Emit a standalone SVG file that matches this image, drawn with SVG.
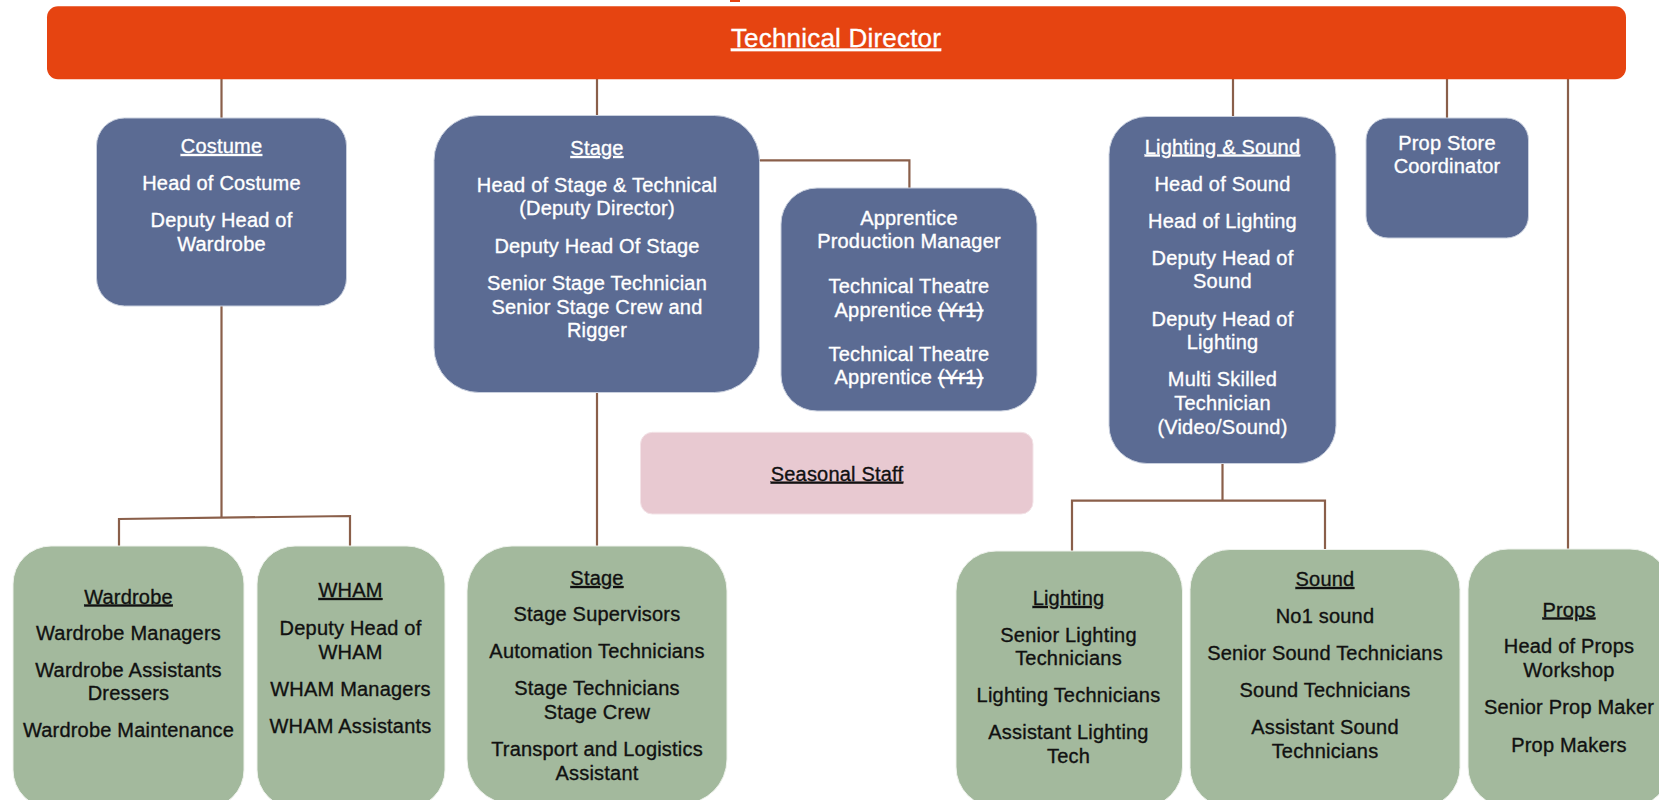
<svg xmlns="http://www.w3.org/2000/svg" width="1659" height="800" viewBox="0 0 1659 800">
  <style>
    .t { font-family: "Liberation Sans", Arial, Helvetica, sans-serif; font-size: 20px; letter-spacing: 0.2px; text-anchor: middle; stroke-width: 0.35px; }
    .w { fill: #ffffff; stroke: #ffffff; }
    .k { fill: #111111; stroke: #111111; }
    .u { text-decoration: underline; }
    .s { text-decoration: line-through; }
    .blue { fill: #5B6B93; stroke: #C9D0DE; stroke-width: 1; }
    .green { fill: #A3B99D; stroke: #EEF2EC; stroke-width: 1; }
    .pink { fill: #E8C9D1; stroke: #F3E3E7; stroke-width: 1; }
    .conn { fill: none; stroke: #8A5F4A; stroke-width: 2.2; }
  </style>
  <rect width="1659" height="800" fill="#ffffff"/>

  <g id="connectors">
    <path class="conn" d="M221.5 79 V118"/>
    <path class="conn" d="M597 79 V116"/>
    <path class="conn" d="M759 160.3 H909.4 V188"/>
    <path class="conn" d="M1233 79 V117"/>
    <path class="conn" d="M1447 79 V118"/>
    <path class="conn" d="M1568 79 V549"/>
    <path class="conn" d="M221.5 306 V517.7"/>
    <path class="conn" d="M119 546 V519 L350 516 V546"/>
    <path class="conn" d="M597 392 V546"/>
    <path class="conn" d="M1222.5 463 V500.7"/>
    <path class="conn" d="M1072 551 V500.7 H1325 V549.5"/>
  </g>

  <g id="technical-director">
    <rect x="730" y="0" width="10" height="2" fill="#E64411"/>
    <rect x="47" y="6.3" width="1579" height="73" rx="11" fill="#E64411"/>
    <text class="t w u" x="836" y="46.5" style="font-size:26px">Technical Director</text>
  </g>

  <g id="costume">
    <rect class="blue" x="96.5" y="118" width="250" height="188" rx="28"/>
    <text class="t w u" x="221.5" y="153">Costume</text>
    <text class="t w" x="221.5" y="190">Head of Costume</text>
    <text class="t w" x="221.5" y="227">Deputy Head of</text>
    <text class="t w" x="221.5" y="250.5">Wardrobe</text>
  </g>

  <g id="stage">
    <rect class="blue" x="434" y="115.5" width="325.5" height="277" rx="45"/>
    <text class="t w u" x="597" y="155">Stage</text>
    <text class="t w" x="597" y="192">Head of Stage &amp; Technical</text>
    <text class="t w" x="597" y="215">(Deputy Director)</text>
    <text class="t w" x="597" y="252.5">Deputy Head Of Stage</text>
    <text class="t w" x="597" y="290">Senior Stage Technician</text>
    <text class="t w" x="597" y="313.5">Senior Stage Crew and</text>
    <text class="t w" x="597" y="337">Rigger</text>
  </g>

  <g id="apprentice">
    <rect class="blue" x="781" y="188" width="256" height="223" rx="36"/>
    <text class="t w" x="909" y="225">Apprentice</text>
    <text class="t w" x="909" y="248">Production Manager</text>
    <text class="t w" x="909" y="292.7">Technical Theatre</text>
    <text class="t w" x="909" y="316.7">Apprentice <tspan class="s">(Yr1)</tspan></text>
    <text class="t w" x="909" y="360.5">Technical Theatre</text>
    <text class="t w" x="909" y="384">Apprentice <tspan class="s">(Yr1)</tspan></text>
  </g>

  <g id="lighting-sound">
    <rect class="blue" x="1109" y="116.5" width="227" height="347" rx="38"/>
    <text class="t w u" x="1222.5" y="153.5">Lighting &amp; Sound</text>
    <text class="t w" x="1222.5" y="191">Head of Sound</text>
    <text class="t w" x="1222.5" y="228">Head of Lighting</text>
    <text class="t w" x="1222.5" y="265">Deputy Head of</text>
    <text class="t w" x="1222.5" y="288">Sound</text>
    <text class="t w" x="1222.5" y="325.5">Deputy Head of</text>
    <text class="t w" x="1222.5" y="348.5">Lighting</text>
    <text class="t w" x="1222.5" y="386">Multi Skilled</text>
    <text class="t w" x="1222.5" y="410">Technician</text>
    <text class="t w" x="1222.5" y="434">(Video/Sound)</text>
  </g>

  <g id="prop-store">
    <rect class="blue" x="1366" y="118" width="162.5" height="120" rx="22"/>
    <text class="t w" x="1447" y="150">Prop Store</text>
    <text class="t w" x="1447" y="173">Coordinator</text>
  </g>

  <g id="seasonal-staff">
    <rect class="pink" x="640.5" y="432.3" width="392.5" height="81.7" rx="12"/>
    <text class="t k u" x="837" y="480.7">Seasonal Staff</text>
  </g>

  <g id="wardrobe">
    <rect class="green" x="13" y="546" width="231" height="262" rx="38"/>
    <text class="t k u" x="128.5" y="603.5">Wardrobe</text>
    <text class="t k" x="128.5" y="640">Wardrobe Managers</text>
    <text class="t k" x="128.5" y="676.7">Wardrobe Assistants</text>
    <text class="t k" x="128.5" y="700">Dressers</text>
    <text class="t k" x="128.5" y="737">Wardrobe Maintenance</text>
  </g>

  <g id="wham">
    <rect class="green" x="257" y="546" width="188" height="262" rx="38"/>
    <text class="t k u" x="350.5" y="597">WHAM</text>
    <text class="t k" x="350.5" y="634.5">Deputy Head of</text>
    <text class="t k" x="350.5" y="658.5">WHAM</text>
    <text class="t k" x="350.5" y="696">WHAM Managers</text>
    <text class="t k" x="350.5" y="733">WHAM Assistants</text>
  </g>

  <g id="stage-team">
    <rect class="green" x="467" y="546" width="260" height="258" rx="45"/>
    <text class="t k u" x="597" y="585">Stage</text>
    <text class="t k" x="597" y="621">Stage Supervisors</text>
    <text class="t k" x="597" y="657.7">Automation Technicians</text>
    <text class="t k" x="597" y="695">Stage Technicians</text>
    <text class="t k" x="597" y="718.5">Stage Crew</text>
    <text class="t k" x="597" y="756">Transport and Logistics</text>
    <text class="t k" x="597" y="780">Assistant</text>
  </g>

  <g id="lighting">
    <rect class="green" x="956" y="551" width="226.5" height="256" rx="40"/>
    <text class="t k u" x="1068.5" y="605">Lighting</text>
    <text class="t k" x="1068.5" y="641.7">Senior Lighting</text>
    <text class="t k" x="1068.5" y="665">Technicians</text>
    <text class="t k" x="1068.5" y="702">Lighting Technicians</text>
    <text class="t k" x="1068.5" y="739.3">Assistant Lighting</text>
    <text class="t k" x="1068.5" y="763.3">Tech</text>
  </g>

  <g id="sound">
    <rect class="green" x="1190" y="549.5" width="270" height="258" rx="40"/>
    <text class="t k u" x="1325" y="586">Sound</text>
    <text class="t k" x="1325" y="622.7">No1 sound</text>
    <text class="t k" x="1325" y="660">Senior Sound Technicians</text>
    <text class="t k" x="1325" y="697">Sound Technicians</text>
    <text class="t k" x="1325" y="734">Assistant Sound</text>
    <text class="t k" x="1325" y="757.5">Technicians</text>
  </g>

  <g id="props">
    <rect class="green" x="1468" y="549" width="202" height="258" rx="40"/>
    <text class="t k u" x="1569" y="616.5">Props</text>
    <text class="t k" x="1569" y="653">Head of Props</text>
    <text class="t k" x="1569" y="676.7">Workshop</text>
    <text class="t k" x="1569" y="714">Senior Prop Maker</text>
    <text class="t k" x="1569" y="751.5">Prop Makers</text>
  </g>
</svg>
